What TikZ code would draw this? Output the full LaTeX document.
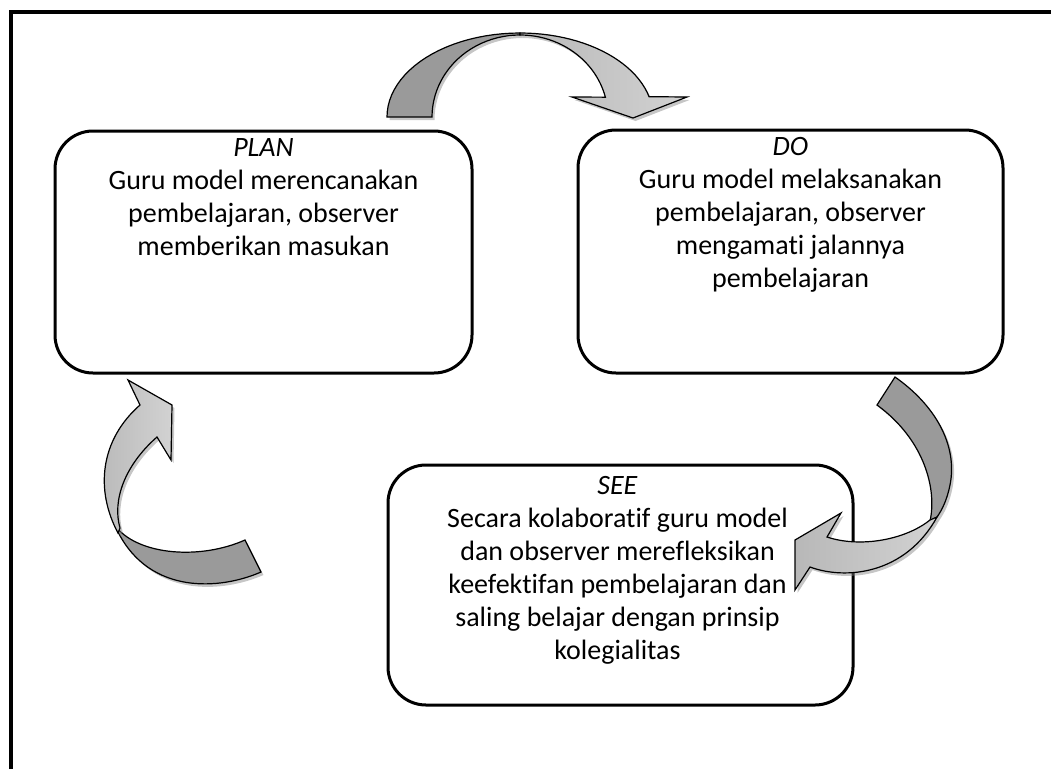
\documentclass[tikz,border=0pt]{standalone}
\usepackage{fontspec}
\setmainfont{Carlito}[Ligatures=NoCommon]
\usetikzlibrary{positioning,shadows}
\definecolor{backgray}{HTML}{9A9A9A}
\definecolor{frontdark}{HTML}{B8B8B8}
\definecolor{frontlight}{HTML}{D2D2D2}

\begin{document}
\begin{tikzpicture}[x=1pt,y=-1pt,
  stage/.style={draw,line width=3pt,rounded corners=38pt,inner sep=0pt},
  stagetext/.style={align=center,inner sep=0pt,font=\fontsize{28}{33}\selectfont},
  bandshadow/.style={drop shadow={shadow xshift=2.5pt,shadow yshift=-3pt,opacity=0.45}},
  backband/.style={fill=backgray,draw=black,line width=1.2pt,bandshadow},
  frontband/.style={left color=frontdark,right color=frontlight,draw=black,line width=1.2pt,bandshadow}]
\useasboundingbox (0,0) rectangle (1051,769);
\draw[line width=4pt] (10.5,769) -- (10.5,12) -- (1051,12);

\node[stage,minimum width=417pt,minimum height=242pt] (plan) at (263.5,252) {};
\node[stagetext,below=9pt of plan.north] (plantext) {\textit{PLAN}\\Guru model merencanakan\\pembelajaran, observer\\memberikan masukan};

\node[stage,minimum width=425pt,minimum height=243pt] (do) at (790.5,251.5) {};
\node[stagetext,below=9pt of do.north] (dotext) {\textit{DO}\\Guru model melaksanakan\\pembelajaran, observer\\mengamati jalannya\\pembelajaran};

\node[stage,minimum width=465pt,minimum height=240pt] (see) at (620.5,585) {};
\node[stagetext,below=13pt of see.north,xshift=-3pt] (seetext) {\textit{SEE}\\Secara kolaboratif guru model\\dan observer merefleksikan\\keefektifan pembelajaran dan\\saling belajar dengan prinsip\\kolegialitas};

% top arrow
\filldraw[backband] plot[domain=180:270] ({520+133*cos(\x)},{117+84*sin(\x)}) -- plot[domain=270:180] ({520+88*cos(\x)},{117+82*sin(\x)}) -- cycle;
\filldraw[frontband] plot[domain=270:346] ({520+133*cos(\x)},{117+84*sin(\x)}) -- (687,97) -- (633,118) -- (572,97) -- plot[domain=346:270] ({520+88*cos(\x)},{117+82*sin(\x)}) -- cycle;

% right arrow
\filldraw[backband] (895,377) .. controls (935,405) and (958,445) .. (950,485) .. controls (947,500) and (942,510) .. (937,517) -- (930,521) .. controls (937,490) and (925,440) .. (877,405) -- cycle;
\filldraw[frontband] (930,520) .. controls (905,540) and (860,548) .. (827,537) -- (841,513) -- (795,540) -- (795,590) -- (810,567) .. controls (845,580) and (905,575) .. (937,517) -- cycle;

% left arrow
\filldraw[backband] (261,572) .. controls (220,590) and (150,595) .. (118,532) -- (117,528) .. controls (140,555) and (200,560) .. (245,540) -- cycle;
\filldraw[frontband] (118,533) .. controls (95,490) and (100,440) .. (140,405) -- (128,380) -- (172,405) -- (171,460) -- (157,437) .. controls (125,465) and (112,500) .. (120,528) -- cycle;
\end{tikzpicture}
\end{document}
